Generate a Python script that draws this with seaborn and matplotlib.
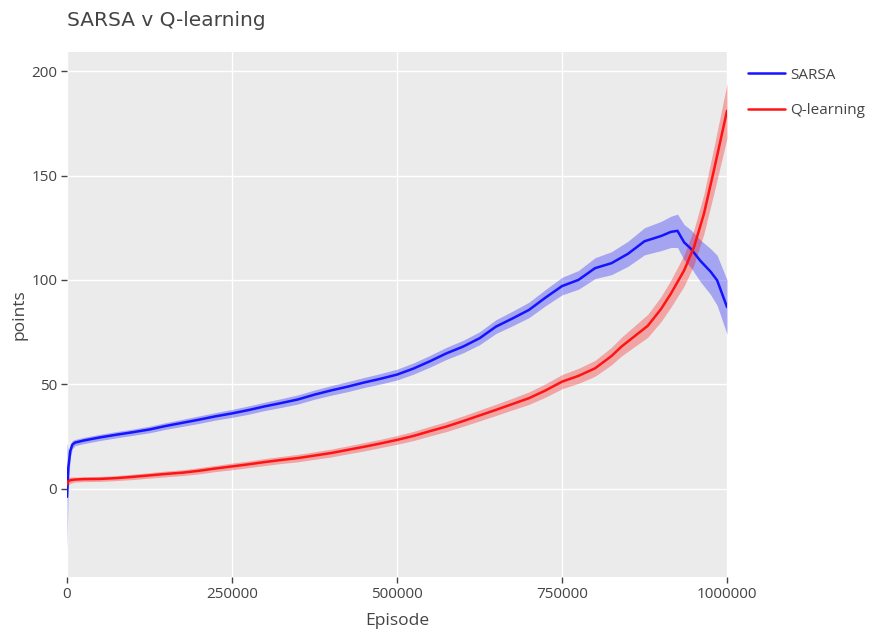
import numpy as np
import pandas as pd
import matplotlib
matplotlib.use("Agg")
import matplotlib.pyplot as plt
import seaborn as sns

# ---- data ----
sarsa_x = [0, 2000, 5000, 8000, 12000, 25000, 50000, 75000, 100000, 125000, 150000,
           175000, 200000, 225000, 250000, 275000, 300000, 325000, 350000, 375000,
           400000, 425000, 450000, 475000, 500000, 525000, 550000, 575000, 600000,
           625000, 650000, 675000, 700000, 725000, 750000, 775000, 800000, 825000,
           850000, 875000, 900000, 915000, 925000, 935000, 945000, 960000, 975000,
           985000, 1000000]
sarsa_y = [-4, 10, 18, 21, 22, 23, 24.5, 25.8, 27, 28.3, 30, 31.5, 33, 34.6, 36,
           37.6, 39.4, 41, 42.7, 45, 47, 48.8, 50.8, 52.6, 54.6, 57.5, 61, 64.8,
           68, 72, 77.6, 81.5, 85.6, 91.5, 97, 100, 105.6, 108, 112.5, 118.5, 121,
           123, 123.5, 118, 115, 109, 104, 99.8, 87]
sarsa_err = [26, 8, 3, 2, 1.5, 1.5, 1.5, 1.5, 1.5, 1.6, 1.6, 1.7, 1.8, 1.8, 1.9,
             2, 2, 2.1, 2.2, 2.2, 2.3, 2.4, 2.4, 2.5, 2.6, 2.7, 2.8, 2.9, 3, 3.1,
             3.3, 3.5, 3.7, 3.9, 4.2, 4.5, 5, 5.5, 6, 6.5, 7, 7.5, 8, 8.5, 9, 10,
             11, 12, 13]

q_x = [0, 2000, 5000, 12000, 25000, 50000, 75000, 100000, 125000, 150000, 175000,
       200000, 225000, 250000, 275000, 300000, 325000, 350000, 375000, 400000,
       425000, 450000, 475000, 500000, 525000, 550000, 575000, 600000, 625000,
       650000, 675000, 700000, 725000, 750000, 775000, 800000, 825000, 840000,
       860000, 880000, 900000, 915000, 935000, 950000, 965000, 980000, 990000,
       1000000]
q_y = [2, 3.5, 4, 4.3, 4.5, 4.6, 5, 5.6, 6.3, 7, 7.6, 8.5, 9.6, 10.6, 11.6, 12.7,
       13.7, 14.6, 15.8, 17, 18.5, 20, 21.6, 23.3, 25.2, 27.5, 29.7, 32.3, 35,
       37.7, 40.5, 43.3, 47, 51.2, 54, 57.6, 63.5, 68, 73, 78, 86, 93.4, 104.5,
       115.7, 131.6, 152.3, 166.6, 181]
q_err = [3, 2, 1.5, 1.2, 1.2, 1.2, 1.2, 1.3, 1.3, 1.4, 1.4, 1.5, 1.5, 1.6, 1.6,
         1.7, 1.7, 1.8, 1.8, 1.9, 1.9, 2, 2, 2.1, 2.2, 2.3, 2.4, 2.5, 2.6, 2.7,
         2.8, 3, 3.2, 3.4, 3.6, 3.8, 4.2, 4.5, 5, 5.5, 6, 6.5, 7.5, 8.5, 9.5, 11,
         12, 13]

series_names = ["SARSA", "Q-learning"]
colors = ["#1414ff", "#ff1414"]

x_ticks = [0, 250000, 500000, 750000, 1000000]
y_ticks = [0, 50, 100, 150, 200]

# ---- build tidy frame ----
df = pd.concat([
    pd.DataFrame({"Episode": sarsa_x, "points": sarsa_y, "err": sarsa_err, "algo": "SARSA"}),
    pd.DataFrame({"Episode": q_x, "points": q_y, "err": q_err, "algo": "Q-learning"}),
], ignore_index=True)

sns.set_theme(style="darkgrid")
plt.rcParams["font.family"] = ["Open Sans", "DejaVu Sans"]

fig = plt.figure(figsize=(8.69, 6.34), dpi=100)
ax = fig.add_axes([67 / 869, 57 / 634, 660 / 869, 525 / 634])
ax.set_facecolor("#ebebeb")
ax.grid(True, color="white", linewidth=1.0)

palette = dict(zip(series_names, colors))
for name in series_names:
    d = df[df["algo"] == name]
    ax.fill_between(d["Episode"], d["points"] - d["err"], d["points"] + d["err"],
                    color=palette[name], alpha=0.33, linewidth=0)

sns.lineplot(data=df, x="Episode", y="points", hue="algo", palette=palette,
             hue_order=series_names, linewidth=1.8, ax=ax, estimator=None, sort=False)

ax.set_xlim(0, 1000000)
ax.set_ylim(-42.4, 209.2)
ax.set_xticks(x_ticks)
ax.set_xticklabels([str(t) for t in x_ticks])
ax.set_yticks(y_ticks)
ax.set_yticklabels([str(t) for t in y_ticks])
for s in ax.spines.values():
    s.set_visible(False)
ax.tick_params(axis="both", which="both", direction="out", length=4, width=1,
               color="#444444", labelcolor="#444444", labelsize=11, pad=3,
               bottom=True, left=True)

ax.set_xlabel("Episode", fontsize=12.5, color="#444444", labelpad=8)
ax.set_ylabel("points", fontsize=12.5, color="#444444", labelpad=3)

fig.text(67 / 869, 1 - 20 / 634, "SARSA v Q-learning", fontsize=14.5, color="#444444",
         ha="left", va="center", family=["DejaVu Sans"])

leg = ax.legend(loc="upper left", bbox_to_anchor=(1.032, 0.97), frameon=False,
                fontsize=11, handlelength=2.4, handletextpad=0.35, labelspacing=1.35,
                borderaxespad=0, borderpad=0)
for t in leg.get_texts():
    t.set_color("#444444")

fig.savefig("out.png", dpi=100)
